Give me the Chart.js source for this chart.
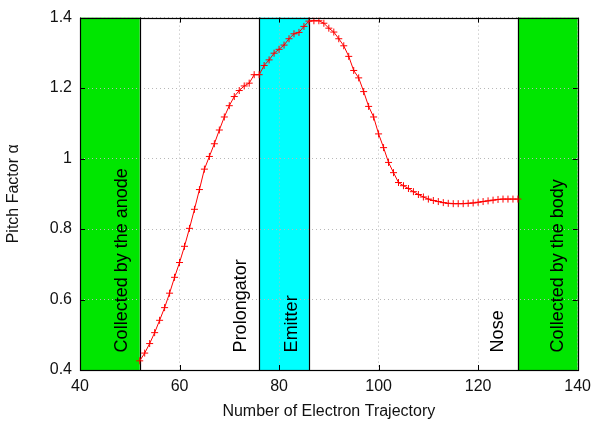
<!DOCTYPE html>
<html>
<head>
<meta charset="utf-8">
<script src="https://cdn.jsdelivr.net/npm/chart.js@4/dist/chart.umd.min.js"></script>
<style>
  html, body { margin: 0; padding: 0; background: #fff; }
  #pitchChart { display: block; }
</style>
</head>
<body>
<canvas id="pitchChart" width="598" height="425"></canvas>
<script>
// trajectory number and pitch factor along the beam
var trajectory = [
  52, 53, 54, 55, 56, 57, 58, 59, 60, 61, 62, 63, 64, 65, 66, 67, 68, 69, 70,
  71, 72, 73, 74, 75, 76, 77, 78, 79, 80, 81, 82, 83, 84, 85, 86, 87, 88, 89,
  90, 91, 92, 93, 94, 95, 96, 97, 98, 99, 100, 101, 102, 103, 104, 105, 106,
  107, 108, 109, 110, 111, 112, 113, 114, 115, 116, 117, 118, 119, 120, 121,
  122, 123, 124, 125, 126, 127, 128
];
var pitchFactor = [
  0.426, 0.448, 0.475, 0.506, 0.541, 0.577, 0.618, 0.663, 0.705, 0.751, 0.802,
  0.856, 0.912, 0.970, 1.006, 1.042, 1.081, 1.118, 1.150, 1.176, 1.193, 1.206,
  1.214, 1.238, 1.238, 1.264, 1.280, 1.299, 1.310, 1.322, 1.340, 1.354, 1.358,
  1.375, 1.390, 1.391, 1.391, 1.384, 1.370, 1.359, 1.340, 1.320, 1.290, 1.250,
  1.229, 1.190, 1.148, 1.118, 1.070, 1.031, 0.989, 0.960, 0.932, 0.923, 0.915,
  0.906, 0.898, 0.891, 0.885, 0.881, 0.878, 0.875, 0.873, 0.872, 0.872, 0.872,
  0.873, 0.874, 0.876, 0.878, 0.880, 0.882, 0.884, 0.885, 0.885, 0.885, 0.885
];

var xTicks = [40, 60, 80, 100, 120, 140];
var yTicks = [0.4, 0.6, 0.8, 1, 1.2, 1.4];

// shaded regions of the device (trajectory ranges)
var regionFrom = [40, 76, 128];
var regionTo = [52, 86, 140];
var regionColors = ['#00e600', '#00ffff', '#00e600'];

// region boundaries
var dividers = [52, 76, 86, 128];

// region names, placed at a trajectory number, starting at pitch factor 0.45
var regionNames = ['Collected by the anode', 'Prolongator', 'Emitter', 'Nose', 'Collected by the body'];
var regionNameAt = [48.4, 72.3, 82.6, 124, 136];
var regionNameBase = 0.45;

var FONT = "'Liberation Sans', Arial, Helvetica, sans-serif";

var regionsPlugin = {
  id: 'regions',
  beforeDraw: function (chart) {
    var ctx = chart.ctx, xs = chart.scales.x, ys = chart.scales.y;
    var area = chart.chartArea;
    ctx.save();
    for (var i = 0; i < regionFrom.length; i++) {
      var x0 = xs.getPixelForValue(regionFrom[i]);
      var x1 = xs.getPixelForValue(regionTo[i]);
      ctx.fillStyle = regionColors[i];
      ctx.fillRect(x0, area.top, x1 - x0, area.bottom - area.top);
    }
    ctx.restore();
  },
  beforeDatasetsDraw: function (chart) {
    var ctx = chart.ctx, xs = chart.scales.x, ys = chart.scales.y;
    var area = chart.chartArea;
    ctx.save();
    ctx.strokeStyle = '#000';
    ctx.lineWidth = 1.2;
    dividers.forEach(function (d) {
      var px = Math.round(xs.getPixelForValue(d)) + 0.5;
      ctx.beginPath();
      ctx.moveTo(px, area.top);
      ctx.lineTo(px, area.bottom);
      ctx.stroke();
    });

    ctx.fillStyle = '#000';
    ctx.font = '18px ' + FONT;
    ctx.textAlign = 'left';
    ctx.textBaseline = 'middle';
    var py = ys.getPixelForValue(regionNameBase);
    regionNames.forEach(function (name, i) {
      ctx.save();
      ctx.translate(xs.getPixelForValue(regionNameAt[i]), py);
      ctx.rotate(-Math.PI / 2);
      ctx.fillText(name, 0, 0);
      ctx.restore();
    });
    ctx.restore();
  },
  afterDatasetsDraw: function (chart) {
    var ctx = chart.ctx, xs = chart.scales.x, ys = chart.scales.y;
    var area = chart.chartArea;
    ctx.save();
    ctx.strokeStyle = '#000';
    ctx.lineWidth = 1;
    // small inward tick marks on all four sides
    ctx.beginPath();
    xTicks.forEach(function (v) {
      var px = Math.round(xs.getPixelForValue(v)) + 0.5;
      ctx.moveTo(px, area.bottom); ctx.lineTo(px, area.bottom - 5);
      ctx.moveTo(px, area.top); ctx.lineTo(px, area.top + 5);
    });
    yTicks.forEach(function (v) {
      var py = Math.round(ys.getPixelForValue(v)) + 0.5;
      ctx.moveTo(area.left, py); ctx.lineTo(area.left + 5, py);
      ctx.moveTo(area.right, py); ctx.lineTo(area.right - 5, py);
    });
    ctx.stroke();
    ctx.lineWidth = 1.2;
    ctx.strokeRect(Math.round(area.left) + 0.5, Math.round(area.top) + 0.5,
      Math.round(area.right - area.left), Math.round(area.bottom - area.top));
    ctx.restore();
  }
};

var points = trajectory.map(function (t, i) { return { x: t, y: pitchFactor[i] }; });

var ctx = document.getElementById('pitchChart').getContext('2d');
new Chart(ctx, {
  type: 'line',
  data: {
    datasets: [{
      data: points,
      borderColor: '#ff0000',
      borderWidth: 1,
      pointStyle: 'cross',
      pointRadius: 3.5,
      pointBorderColor: '#ff0000',
      pointBorderWidth: 1,
      pointBackgroundColor: '#ff0000',
      tension: 0,
      fill: false
    }]
  },
  options: {
    responsive: false,
    animation: false,
    devicePixelRatio: 1,
    layout: { padding: { top: 10, right: 18, left: 0, bottom: 0 } },
    plugins: {
      legend: { display: false },
      tooltip: { enabled: false }
    },
    scales: {
      x: {
        type: 'linear',
        min: 40,
        max: 140,
        afterBuildTicks: function (scale) {
          scale.ticks = xTicks.map(function (v) { return { value: v }; });
        },
        afterFit: function (scale) { scale.height = 55; },
        grid: { color: '#b8b8b8', lineWidth: 1, drawTicks: false },
        border: { display: false, dash: [1, 3] },
        ticks: { color: '#111', padding: 7, font: { family: FONT, size: 16 } },
        title: {
          display: true,
          text: 'Number of Electron Trajectory',
          color: '#111',
          font: { family: FONT, size: 16 }
        }
      },
      y: {
        type: 'linear',
        min: 0.4,
        max: 1.4,
        afterBuildTicks: function (scale) {
          scale.ticks = yTicks.map(function (v) { return { value: v }; });
        },
        afterFit: function (scale) { scale.width = 80; },
        grid: { color: '#b8b8b8', lineWidth: 1, drawTicks: false },
        border: { display: false, dash: [1, 3] },
        ticks: {
          color: '#111',
          padding: 8,
          font: { family: FONT, size: 16 },
          callback: function (v) { return String(Math.round(v * 10) / 10); }
        },
        title: {
          display: true,
          text: 'Pitch Factor α',
          color: '#111',
          font: { family: FONT, size: 16 }
        }
      }
    }
  },
  plugins: [regionsPlugin]
});
</script>
</body>
</html>
